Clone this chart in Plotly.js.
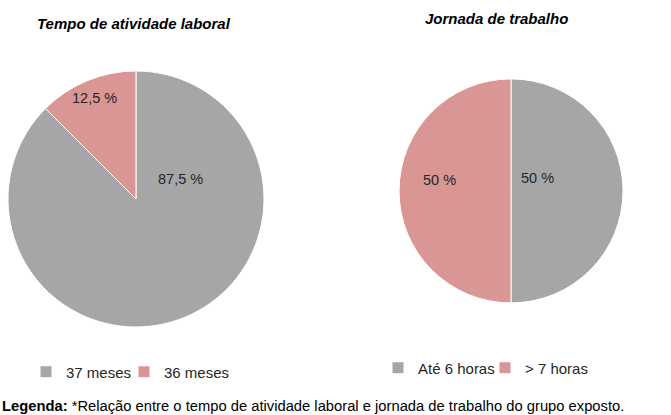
<!DOCTYPE html>
<html><head><meta charset="utf-8">
<script src="https://cdn.plot.ly/plotly-3.0.1.min.js"></script>
<style>html,body{margin:0;padding:0;background:#fff}#c{width:671px;height:415px}</style>
</head><body><div id="c"></div>
<script>
const tempoLabels = ['37 meses', '36 meses'];
const tempoValues = [87.5, 12.5];
const jornadaLabels = ['Até 6 horas', '> 7 horas'];
const jornadaValues = [50, 50];
const sliceColors = ['#a6a6a6', '#d99694'];

const FAM = 'Liberation Sans, Arial, sans-serif';
const labelFont = {family: FAM, size: 14.5, color: '#262626'};
const fmt = v => (Number.isInteger(v) ? String(v) : v.toFixed(1).replace('.', ',')) + ' %';

// invisible spacer entry so the last real legend item is not clipped when entrywidth is set
const spacer = lg => ({type: 'scatter', x: [null], y: [null], mode: 'markers', opacity: 0,
  marker: {color: 'rgba(0,0,0,0)', size: 1, opacity: 0},
  name: ' ', legend: lg, showlegend: true, hoverinfo: 'none'});

const traces = [
  {type: 'pie', labels: tempoLabels, values: tempoValues, sort: false, direction: 'clockwise', rotation: 0,
   marker: {colors: sliceColors, line: {color: '#ffffff', width: 1}},
   textinfo: 'none', hoverinfo: 'none',
   domain: {x: [0.0119, 0.3934], y: [0.212, 0.829]}, legend: 'legend'},
  {type: 'pie', labels: jornadaLabels, values: jornadaValues, sort: false, direction: 'clockwise', rotation: 0,
   marker: {colors: sliceColors, line: {color: '#ffffff', width: 1}},
   textinfo: 'none', hoverinfo: 'none',
   domain: {x: [0.5946, 0.9285], y: [0.270, 0.810]}, legend: 'legend2'},
  spacer('legend'),
  spacer('legend2')
];

// data-label placement (layout only), text comes from the value arrays
const labelPos = [
  [[180, 179], [94, 98]],
  [[537, 178], [439, 180]]
];
const valueSets = [tempoValues, jornadaValues];
const labelAnns = [];
valueSets.forEach((vals, i) => vals.forEach((v, j) => {
  labelAnns.push({text: fmt(v), xref: 'paper', yref: 'paper', x: labelPos[i][j][0] / 671, y: 1 - labelPos[i][j][1] / 415,
    xanchor: 'center', yanchor: 'middle', showarrow: false, font: labelFont});
}));

const legendFont = {family: FAM, size: 15, color: '#262626'};
const hiddenAxis = {visible: false, showgrid: false, zeroline: false, showticklabels: false, fixedrange: true};
const layout = {
  width: 671, height: 415, margin: {l: 0, r: 0, t: 0, b: 0, autoexpand: false},
  paper_bgcolor: '#ffffff', plot_bgcolor: 'rgba(0,0,0,0)',
  separators: ',.',
  font: {family: FAM, size: 13, color: '#262626'},
  showlegend: true,
  xaxis: hiddenAxis, yaxis: hiddenAxis,
  legend: {orientation: 'h', x: 26 / 671, xanchor: 'left', y: 1 - 372 / 415, yanchor: 'middle', traceorder: 'normal',
           font: legendFont, itemwidth: 30, entrywidth: 53, entrywidthmode: 'pixels', bgcolor: 'rgba(0,0,0,0)'},
  legend2: {orientation: 'h', x: 378 / 671, xanchor: 'left', y: 1 - 368 / 415, yanchor: 'middle', traceorder: 'normal',
           font: legendFont, itemwidth: 30, entrywidth: 62, entrywidthmode: 'pixels', bgcolor: 'rgba(0,0,0,0)'},
  annotations: [
    {text: '<b><i>Tempo de atividade laboral</i></b>', xref: 'paper', yref: 'paper', x: 133.5 / 671, y: 1 - 23 / 415,
     xanchor: 'center', yanchor: 'middle', showarrow: false, font: {family: FAM, size: 15, color: '#000000'}},
    {text: '<b><i>Jornada de trabalho</i></b>', xref: 'paper', yref: 'paper', x: 496 / 671, y: 1 - 18 / 415,
     xanchor: 'center', yanchor: 'middle', showarrow: false, font: {family: FAM, size: 15, color: '#000000'}},
    {text: '<b>Legenda:</b> *Relação entre o tempo de atividade laboral e jornada de trabalho do grupo exposto.',
     xref: 'paper', yref: 'paper', x: 0, y: 1 - 406 / 415, xanchor: 'left', yanchor: 'middle', showarrow: false,
     font: {family: FAM, size: 14.75, color: '#000000'}}
  ].concat(labelAnns)
};

Plotly.newPlot('c', traces, layout, {displayModeBar: false, staticPlot: true});
</script></body></html>
